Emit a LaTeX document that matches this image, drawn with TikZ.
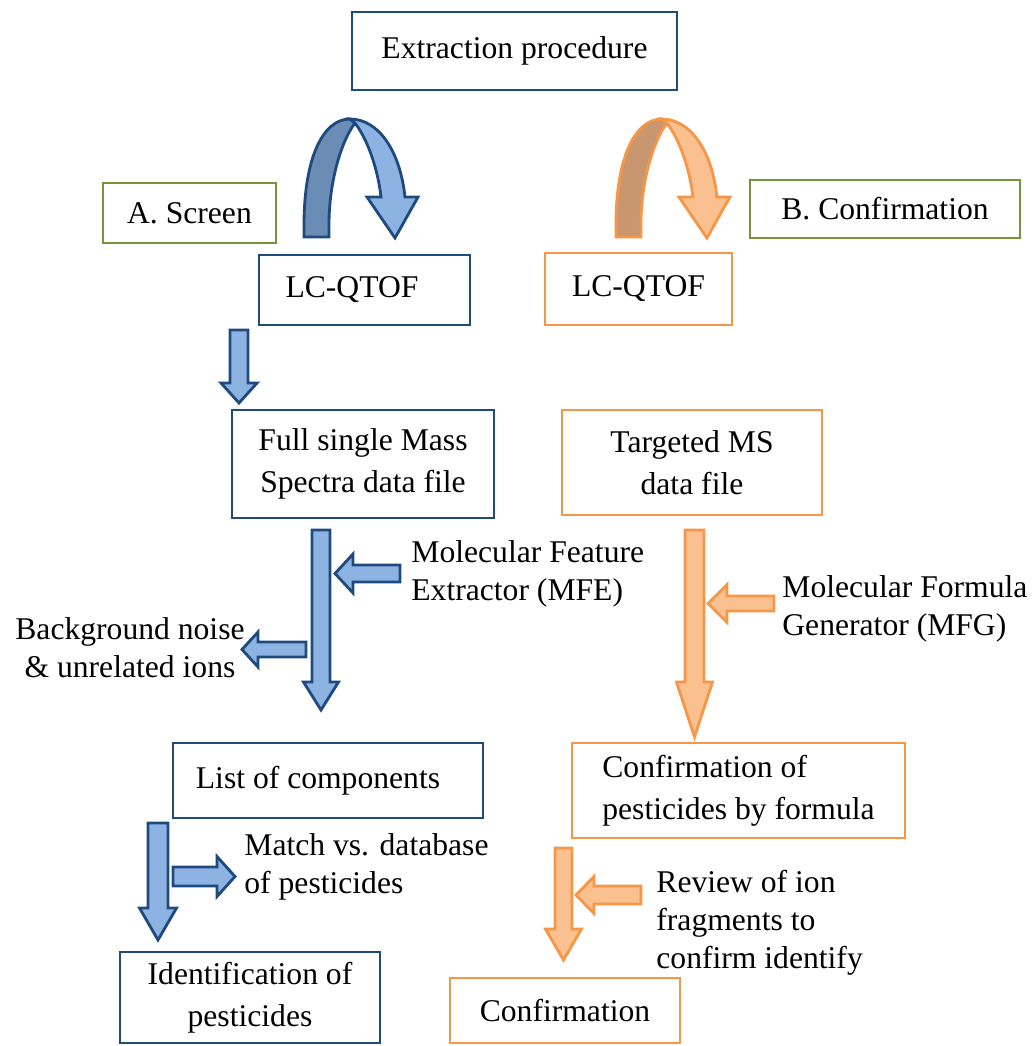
\documentclass[tikz,border=0pt]{standalone}
\usepackage{fontspec}
\setmainfont{Liberation Serif}
\usetikzlibrary{positioning}
\definecolor{boxblue}{HTML}{1F4A7E}
\definecolor{fillblue}{HTML}{8DB3E2}
\definecolor{backblue}{HTML}{6B8CB4}
\definecolor{boxorange}{HTML}{F79646}
\definecolor{fillorange}{HTML}{FAC090}
\definecolor{backorange}{HTML}{C8976F}
\definecolor{boxgreen}{HTML}{77933C}
% vertical block arrow: style, x, top, head base, tip, shaft half width, head half width
\newcommand{\vblock}[7]{\draw[#1] (#2-#6,#3) -- (#2+#6,#3) -- (#2+#6,#4) -- (#2+#7,#4)
  -- (#2,#5) -- (#2-#7,#4) -- (#2-#6,#4) -- cycle;}
% horizontal block arrow: style, y, start, head base, tip, shaft half width, head half width
\newcommand{\hblock}[7]{\draw[#1] (#3,#2-#6) -- (#3,#2+#6) -- (#4,#2+#6) -- (#4,#2+#7)
  -- (#5,#2) -- (#4,#2-#7) -- (#4,#2-#6) -- cycle;}
% u-turn arrow: back style, front style
\newcommand{\uturn}[2]{%
  \draw[#1] (304,237) -- (304,225) .. controls (304,160) and (322,119) .. (350,119)
    -- (355,123) .. controls (342,140) and (329,180) .. (329,225) -- (329,237) -- cycle;
  \draw[#2] (350,119) .. controls (378,119) and (400,150) .. (405,197) -- (418,197)
    -- (395,238) -- (367,197) -- (381,197) .. controls (378,170) and (368,140) .. (355,123) -- cycle;}

\begin{document}
\begin{tikzpicture}[x=0.02cm,y=-0.02cm,line width=1.6pt,
    box/.style={draw=boxblue,rectangle,inner sep=0pt,align=center,
      font=\fontsize{18}{24}\selectfont},
    obox/.style={box,draw=boxorange},
    gbox/.style={box,draw=boxgreen},
    lbl/.style={inner sep=0pt,align=left,font=\fontsize{18}{21.5}\selectfont},
    barrow/.style={draw=boxblue,fill=fillblue},
    oarrow/.style={draw=boxorange,fill=fillorange}]
  \useasboundingbox (0,0) rectangle (1035,1046);

  \node[box,minimum width=6.5cm,minimum height=1.56cm] (extr) at (514.5,51) {Extraction procedure};
  \node[gbox,minimum width=3.46cm,minimum height=1.2cm] (screen) at (189.5,213) {A. Screen};
  \node[gbox,minimum width=5.4cm,minimum height=1.16cm] (confirm) at (885,209) {B. Confirmation};
  \node[box,minimum width=4.22cm,minimum height=1.4cm] (lcqa) at (364.5,290) {LC-QTOF\hspace*{0.5cm}};
  \node[obox,minimum width=3.74cm,minimum height=1.44cm] (lcqb) at (638.5,289) {LC-QTOF};
  \node[box,minimum width=5.24cm,minimum height=2.16cm] (full) at (363,464) {Full single Mass\\Spectra data file};
  \node[obox,minimum width=5.2cm,minimum height=2.1cm] (targ) at (692,462.5) {Targeted MS\\data file};
  \node[box,minimum width=6.2cm,minimum height=1.5cm] (list) at (328,780.5) {List of components\hspace*{0.4cm}};
  \node[obox,minimum width=6.66cm,minimum height=1.9cm,align=left] (formula) at (738.5,790.5) {Confirmation of\\pesticides by formula};
  \node[box,minimum width=5.2cm,minimum height=1.82cm] (ident) at (250,997.5) {Identification of\\pesticides};
  \node[obox,minimum width=4.6cm,minimum height=1.3cm] (conf) at (565,1010.5) {Confirmation};

  \node[lbl,anchor=west] (mfe) at (410,573.5) {Molecular Feature\\Extractor (MFE)};
  \node[lbl,align=center] (noise) at (130,648) {Background noise\\\& unrelated ions};
  \node[lbl,anchor=west] (mfg) at (781,609) {Molecular Formula\\Generator (MFG)};
  \node[lbl,anchor=west] (match) at (243,867) {Match vs. database\\of pesticides};
  \node[lbl,anchor=west] (review) at (655,923) {Review of ion\\fragments to\\confirm identify};

  \uturn{draw=boxblue,fill=backblue}{draw=boxblue,fill=fillblue}
  \begin{scope}[xshift=6.24cm]
    \uturn{draw=boxorange,fill=backorange}{draw=boxorange,fill=fillorange}
  \end{scope}

  \vblock{barrow}{239}{330}{383}{403}{9}{18}
  \vblock{barrow}{321}{530}{682}{710}{9}{17.5}
  \vblock{oarrow}{694.5}{530}{682}{737}{9.5}{18}
  \vblock{barrow}{158}{823}{908}{940}{10}{18.5}
  \vblock{oarrow}{563.5}{848}{929}{960}{8.5}{18}

  \hblock{barrow}{573.5}{400}{353}{335}{8.5}{19.5}
  \hblock{barrow}{649.5}{306}{258}{242}{7.5}{17.5}
  \hblock{oarrow}{603.5}{774}{727}{708}{7.5}{19}
  \hblock{barrow}{876.5}{173}{217}{235}{9.5}{20}
  \hblock{oarrow}{895}{641}{594}{576}{9}{18.5}
\end{tikzpicture}
\end{document}
